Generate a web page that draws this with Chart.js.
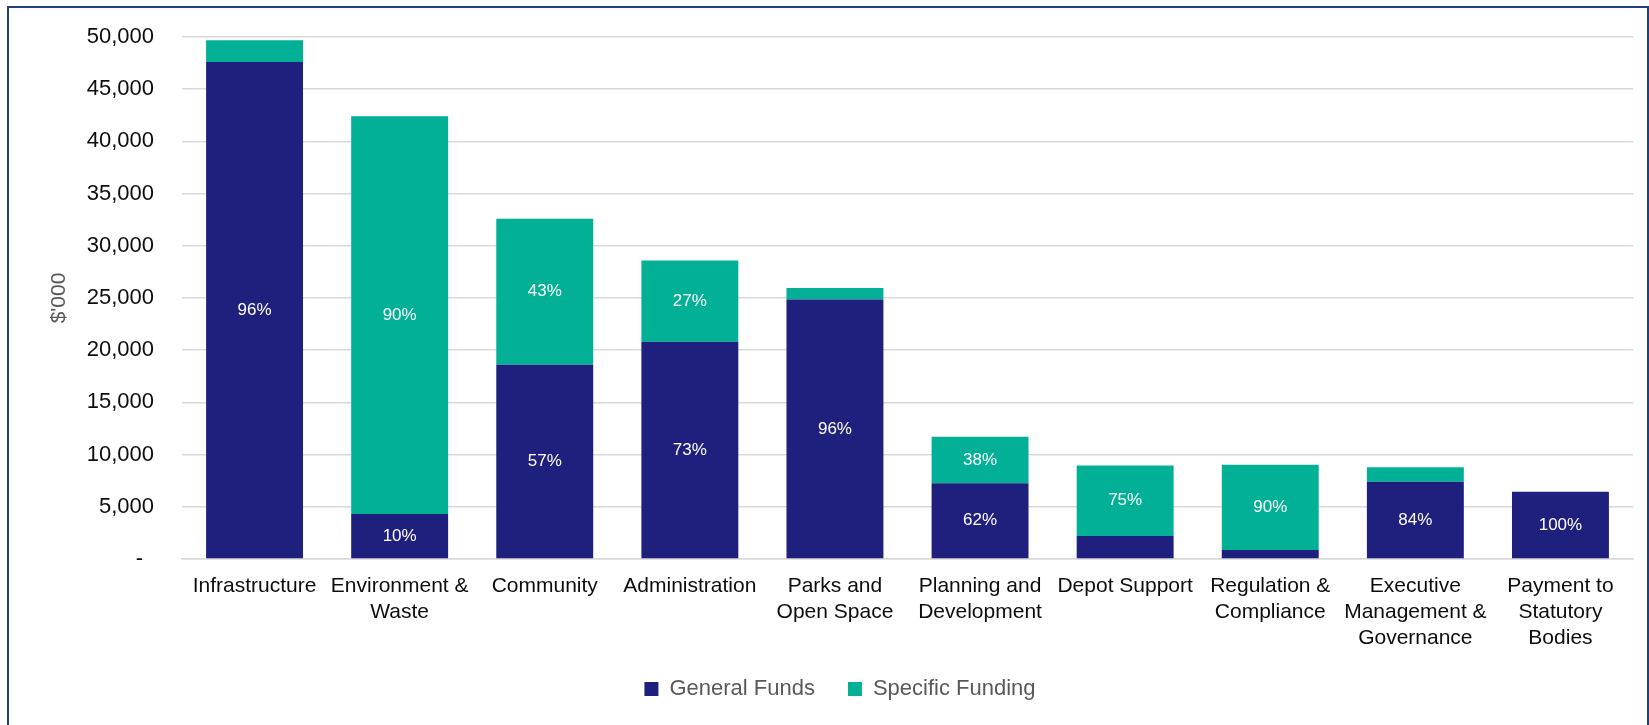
<!DOCTYPE html>
<html>
<head>
<meta charset="utf-8">
<script src="https://cdn.jsdelivr.net/npm/chart.js@4/dist/chart.umd.min.js"></script>
<style>
  html, body { margin: 0; padding: 0; background: #ffffff; overflow: hidden; }
  #frame {
    position: absolute; left: 7px; top: 6px; width: 1642px; height: 800px;
    border: 2px solid #22407F; box-sizing: border-box;
  }
  #wrap { position: absolute; left: 0; top: 0; width: 1649px; height: 725px; }
</style>
</head>
<body>
<div id="frame"></div>
<div id="wrap"><canvas id="chart" width="1649" height="725"></canvas></div>
<script>
// Service areas and their funding sources ($'000)
const categories = [
  'Infrastructure',
  ['Environment &', 'Waste'],
  'Community',
  'Administration',
  ['Parks and', 'Open Space'],
  ['Planning and', 'Development'],
  'Depot Support',
  ['Regulation &', 'Compliance'],
  ['Executive', 'Management &', 'Governance'],
  ['Payment to', 'Statutory', 'Bodies']
];
const generalFunds    = [47600, 4300, 18600, 20800, 24850, 7250, 2200, 870, 7400, 6450];
const specificFunding = [2080, 38100, 14000, 7800, 1100, 4450, 6750, 8150, 1400, 0];
const yTicks = [0, 5000, 10000, 15000, 20000, 25000, 30000, 35000, 40000, 45000, 50000];

const NAVY = '#1F1F7E';
const TEAL = '#02B195';
const FONT = "'Liberation Sans', Arial, sans-serif";

// Writes each segment's share of its column total inside the segment
const shareLabels = {
  id: 'shareLabels',
  afterDatasetsDraw(chart) {
    const ctx = chart.ctx;
    const sets = chart.data.datasets;
    ctx.save();
    ctx.font = '17px ' + FONT;
    ctx.fillStyle = '#ffffff';
    ctx.textAlign = 'center';
    ctx.textBaseline = 'middle';
    sets.forEach((ds, di) => {
      const meta = chart.getDatasetMeta(di);
      meta.data.forEach((bar, i) => {
        const v = ds.data[i];
        const total = sets.reduce((s, d) => s + d.data[i], 0);
        if (!v || !total) return;
        const h = Math.abs(bar.base - bar.y);
        if (h < 30) return;
        const pct = Math.round(v / total * 100) + '%';
        ctx.fillText(pct, bar.x, (bar.y + bar.base) / 2);
      });
    });
    ctx.restore();
  }
};

new Chart(document.getElementById('chart'), {
  type: 'bar',
  data: {
    labels: categories,
    datasets: [
      { label: 'General Funds', data: generalFunds, backgroundColor: NAVY, borderWidth: 0 },
      { label: 'Specific Funding', data: specificFunding, backgroundColor: TEAL, borderWidth: 0 }
    ]
  },
  options: {
    responsive: false,
    animation: false,
    devicePixelRatio: 1,
    categoryPercentage: 1,
    barPercentage: 0.668,
    layout: { padding: { left: 47, right: 16, top: 37, bottom: 15 } },
    plugins: {
      legend: {
        position: 'bottom',
        labels: {
          boxWidth: 14, boxHeight: 14, padding: 33,
          color: '#595959',
          font: { family: FONT, size: 22 }
        }
      },
      tooltip: { enabled: false }
    },
    scales: {
      x: {
        stacked: true,
        grid: { display: false, drawTicks: false },
        border: { display: true, color: '#D9D9D9', width: 1.5 },
        ticks: {
          color: '#0D0D0D', padding: 14, maxRotation: 0, autoSkip: false,
          font: { family: FONT, size: 21, lineHeight: '26px' }
        },
        afterFit(scale) { scale.height = 86; }
      },
      y: {
        stacked: true,
        min: 0, max: 50000,
        afterBuildTicks(scale) { scale.ticks = yTicks.map(v => ({ value: v })); },
        grid: {
          color: '#D9D9D9', lineWidth: 1.5,
          drawTicks: true, tickLength: 20, tickColor: 'rgba(0,0,0,0)'
        },
        border: { display: false },
        ticks: {
          color: '#0D0D0D', padding: 8,
          font: { family: FONT, size: 22 },
          callback: v => v === 0 ? '-\u2002' : v.toLocaleString('en-US')
        },
        title: {
          display: true, text: "$'000", color: '#595959',
          font: { family: FONT, size: 21, lineHeight: 1 },
          padding: { top: 2, bottom: 0 }
        },
        afterFit(scale) { scale.width = 135; }
      }
    }
  },
  plugins: [shareLabels]
});
</script>
</body>
</html>
